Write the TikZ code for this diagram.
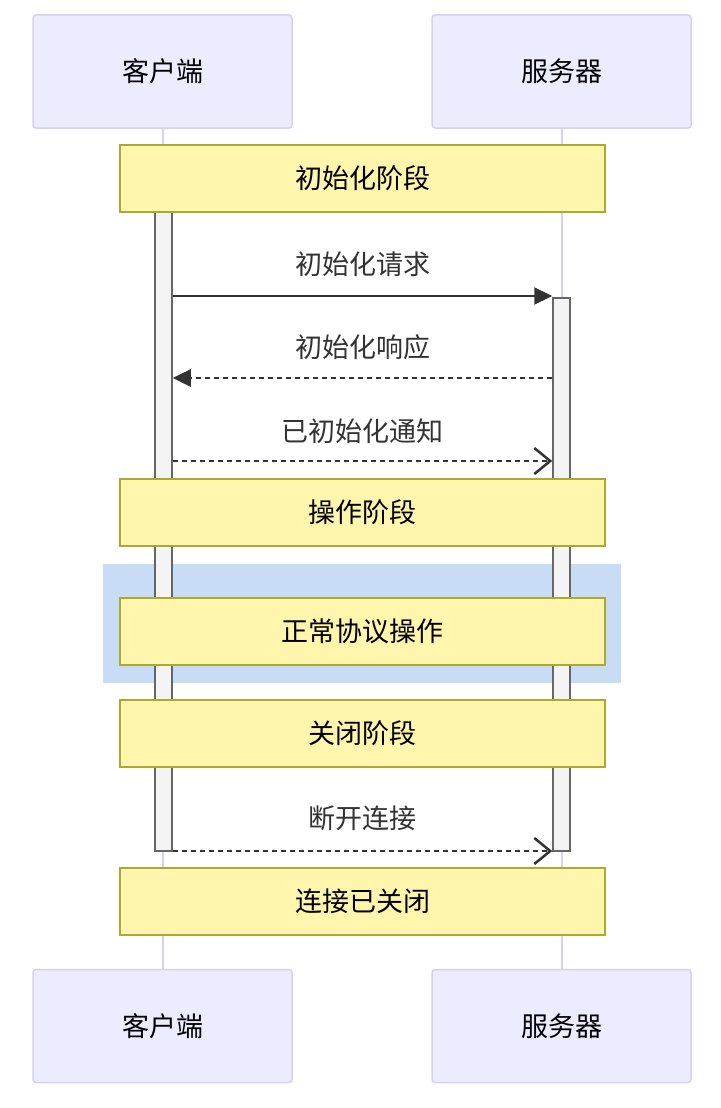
\documentclass[tikz,border=0pt]{standalone}
\usepackage{fontspec}
\setmainfont{Noto Sans CJK SC}
\usetikzlibrary{arrows.meta}
\definecolor{actfill}{HTML}{ECECFF}
\definecolor{actline}{HTML}{D6D0F2}
\definecolor{notefill}{HTML}{FFF5AD}
\definecolor{noteline}{HTML}{AAAA33}
\definecolor{barfill}{HTML}{F4F4F4}
\definecolor{barline}{HTML}{666666}
\definecolor{rectfill}{HTML}{C8DCF5}
\definecolor{txt}{HTML}{333333}
\tikzset{
  actorbox/.style={draw=actline, fill=actfill, line width=1.5pt, rounded corners=3pt,
    minimum width=259pt, minimum height=113pt, inner sep=0pt, text=black,
    font=\fontsize{27}{32}\selectfont},
  notebox/.style={draw=noteline, fill=notefill, line width=1.5pt,
    minimum width=485pt, minimum height=67pt, inner sep=0pt, text=black,
    font=\fontsize{27}{32}\selectfont},
  actbar/.style={draw=barline, fill=barfill, line width=1.5pt, minimum width=17pt, inner sep=0pt},
  lifeline/.style={draw=actline, line width=2pt},
  msglabel/.style={text=txt, inner sep=0pt, font=\fontsize{27}{32}\selectfont},
  syncmsg/.style={draw=txt, line width=2.2pt, -{Triangle[length=18pt,width=17pt]}},
  replymsg/.style={draw=txt, line width=2.5pt, dash pattern=on 5pt off 4pt, -{Triangle[length=18pt,width=17pt]}},
  asyncmsg/.style={draw=txt, line width=2.5pt, dash pattern=on 5pt off 4pt, -{Straight Barb[length=16pt,width=26pt,line width=2.5pt]}},
}
\begin{document}
\begin{tikzpicture}[x=1pt,y=-1pt]
\useasboundingbox (0,0) rectangle (720,1108);
% actors
\node[actorbox] (ct) at (162.5,71.5) {客户端};
\node[actorbox] (st) at (561.5,71.5) {服务器};
\node[actorbox] (cb) at (162.5,1026) {客户端};
\node[actorbox] (sb) at (561.5,1026) {服务器};
% lifelines
\draw[lifeline] (ct.south) -- (cb.north);
\draw[lifeline] (st.south) -- (sb.north);
% highlight rect
\fill[rectfill] (103,564) rectangle (621,683);
% activation bars
\node[actbar, minimum height=639pt] (ca) at (163.5,531.5) {};
\node[actbar, minimum height=553pt] (sa) at (561.5,574.5) {};
% notes
\node[notebox] (n1) at (362.5,178.5) {初始化阶段};
\node[notebox] (n2) at (362.5,512.5) {操作阶段};
\node[notebox] (n3) at (362.5,631.5) {正常协议操作};
\node[notebox] (n4) at (362.5,733.5) {关闭阶段};
\node[notebox] (n5) at (362.5,901.5) {连接已关闭};
% messages
\coordinate (m1) at (0,296);
\coordinate (m2) at (0,378);
\coordinate (m3) at (0,461);
\coordinate (m4) at (0,851);
\node[msglabel] (l1) at (362.5,264) {初始化请求};
\node[msglabel] (l2) at (362.5,347) {初始化响应};
\node[msglabel] (l3) at (362.5,431) {已初始化通知};
\node[msglabel] (l4) at (362.5,818) {断开连接};
\draw[syncmsg] (ca.east |- m1) -- (sa.west |- m1);
\draw[replymsg] (sa.west |- m2) -- (ca.east |- m2);
\draw[asyncmsg] (ca.east |- m3) -- (sa.west |- m3);
\draw[asyncmsg] (ca.east |- m4) -- (sa.west |- m4);
\end{tikzpicture}
\end{document}
